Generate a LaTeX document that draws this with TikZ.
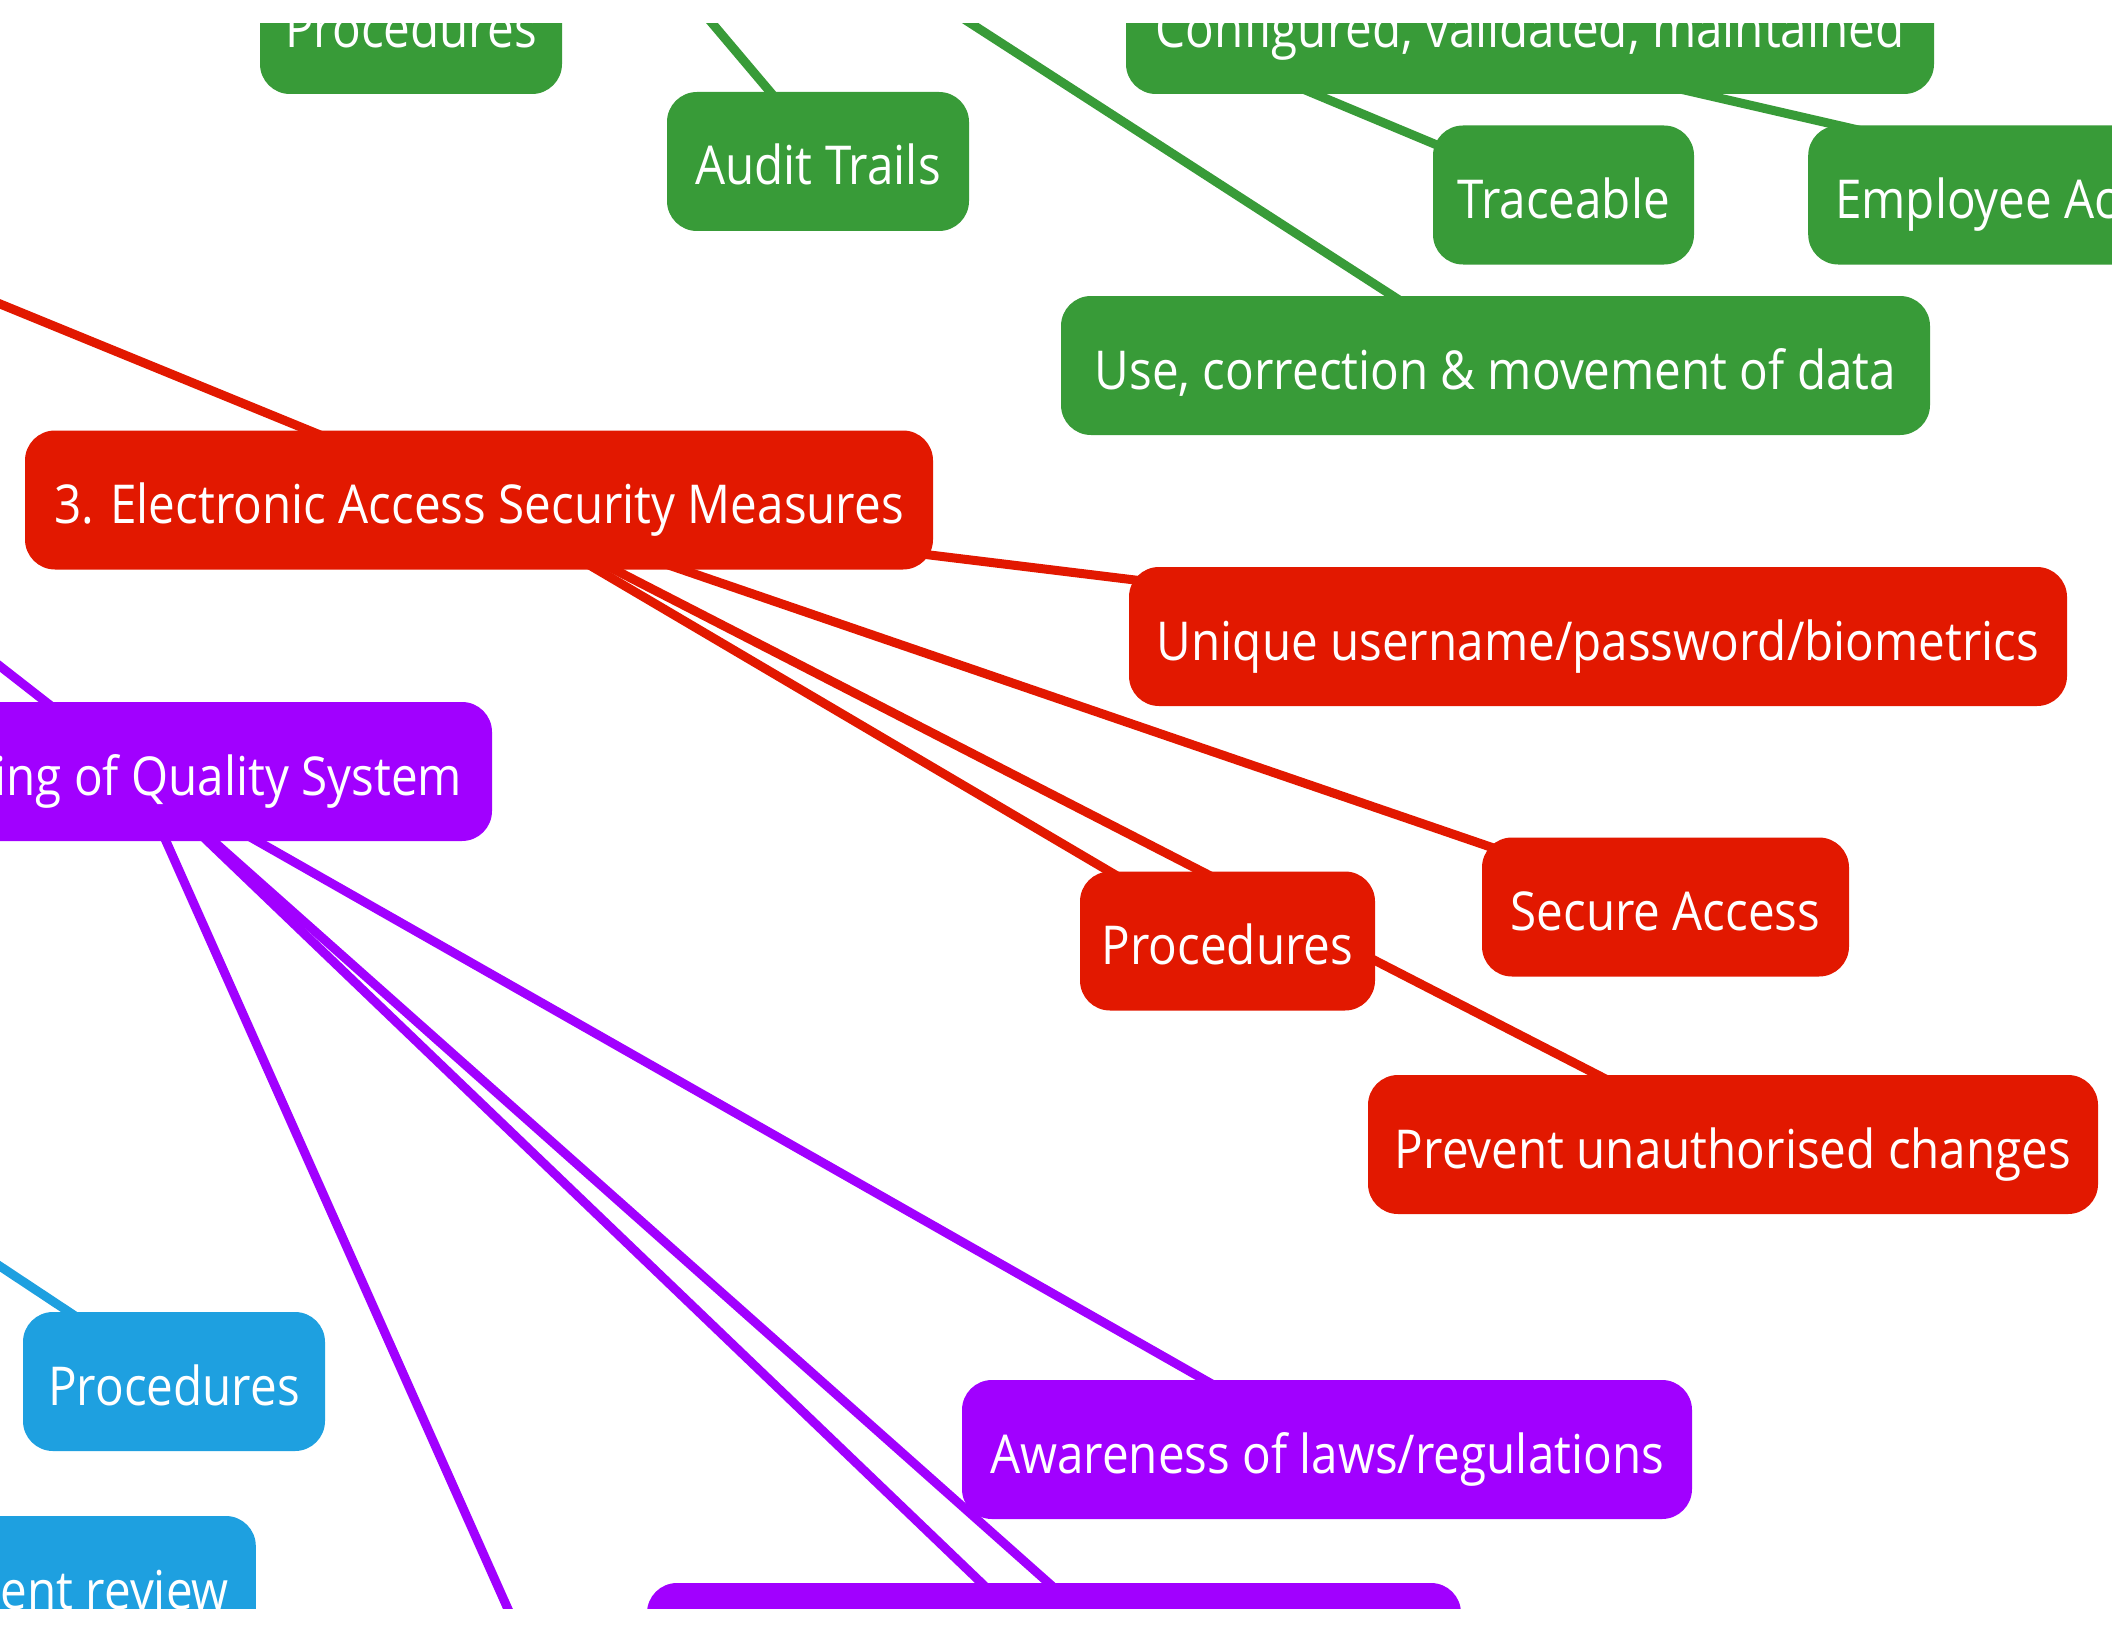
\documentclass[tikz,border=0pt]{standalone}
\usepackage{fontspec}
\newfontfamily\mapfont{Open Sans}[FakeStretch=0.888]
\usetikzlibrary{backgrounds,calc}
\definecolor{mmgreen}{RGB}{56,155,56}
\definecolor{mmred}{RGB}{226,24,0}
\definecolor{mmpurple}{RGB}{161,0,255}
\definecolor{mmblue}{RGB}{30,160,224}
\begin{document}
\begin{tikzpicture}[x=1pt,y=-1pt,
  topic/.style={rounded corners=30pt, minimum height=139pt, inner xsep=0pt,
    inner ysep=0pt, text=white, text height=47pt, text depth=0pt,
    font={\mapfont\fontsize{53.6pt}{60pt}\selectfont}},
  link/.style={line width=9pt}]
\useasboundingbox (0,0) rectangle (2112,1632);

% free ends of branches whose parents lie outside the view
\coordinate (ga) at (439,-300);
\coordinate (gb) at (470,-300);
\coordinate (gc) at (372,-300);
\coordinate (gd) at (-12,-300);
\coordinate (re) at (-100,263);
\coordinate (pq) at (-300,432);
\coordinate (pl) at (1293,1800);
\coordinate (pm) at (593,1800);
\coordinate (bb) at (-100,1200);

\begin{scope}
\clip (0,24) rectangle (2112,1608);
% green branch
\node[topic, fill=mmgreen, minimum width=302pt] (gproc) at (411,24.5) {Procedures};
\node[topic, fill=mmgreen, minimum width=302pt] (audit) at (818,161.5) {Audit Trails};
\node[topic, fill=mmgreen, minimum width=808pt] (config) at (1530,24.5) {Configured, validated, maintained};
\node[topic, fill=mmgreen, minimum width=261pt] (trace) at (1563.5,195) {Traceable};
\node[topic, fill=mmgreen, inner xsep=27pt, anchor=west] (employee) at (1808,195) {Employee Accountability};
\node[topic, fill=mmgreen, minimum width=869pt] (use) at (1495.5,365.5) {Use, correction \& movement of data};
% red branch
\node[topic, fill=mmred, minimum width=908pt] (elec) at (479,500) {3. Electronic Access Security Measures};
\node[topic, fill=mmred, minimum width=938pt] (unique) at (1598,636.5) {Unique username/password/biometrics};
\node[topic, fill=mmred, minimum width=367pt] (secure) at (1665.5,907) {Secure Access};
\node[topic, fill=mmred, minimum width=295pt] (rproc) at (1227.5,941) {Procedures};
\node[topic, fill=mmred, minimum width=730pt] (prevent) at (1733,1144.5) {Prevent unauthorised changes};
% purple branch
\node[topic, fill=mmpurple, minimum width=714pt] (quality) at (135,771.5) {\makebox[654pt][r]{Monitoring of Quality System}};
\node[topic, fill=mmpurple, minimum width=730pt] (aware) at (1327,1449.5) {Awareness of laws/regulations};
\node[topic, fill=mmpurple, minimum width=814pt] (pnext) at (1054,1652.5) {};
% blue branch
\node[topic, fill=mmblue, minimum width=302pt] (bproc) at (174,1381.5) {Procedures};
\node[topic, fill=mmblue, inner xsep=27pt, anchor=east] (review) at (256,1585.5) {Management review};
\end{scope}

\begin{pgfonlayer}{background}
\fill[white] (0,0) rectangle (2112,1632);
\clip (0,24) rectangle (2112,1608);
\draw[link, mmgreen] (ga) -- ($(audit.center)+(11,0)$);
\draw[link, mmgreen] (gb) -- ($(use.center)+(5,0)$);
\draw[link, mmgreen] (gc) -- ($(trace.center)+(-7,0)$);
\draw[link, mmgreen] (gd) -- ($(employee.west)+(333,0)$);
\draw[link, mmred] (re) -- (elec.center);
\draw[link, mmred] (elec.center) -- (unique.center);
\draw[link, mmred] (elec.center) -- (secure.center);
\draw[link, mmred] (elec.center) -- (rproc.center);
\draw[link, mmred] (elec.center) -- (prevent.center);
\draw[link, mmpurple] (pq) -- (quality.center);
\draw[link, mmpurple] (quality.center) -- (aware.center);
\draw[link, mmpurple] (quality.center) -- (pnext.center);
\draw[link, mmpurple] (quality.center) -- (pl);
\draw[link, mmpurple] (quality.center) -- (pm);
\draw[link, mmblue] (bb) -- (bproc.center);
\end{pgfonlayer}
\end{tikzpicture}
\end{document}
